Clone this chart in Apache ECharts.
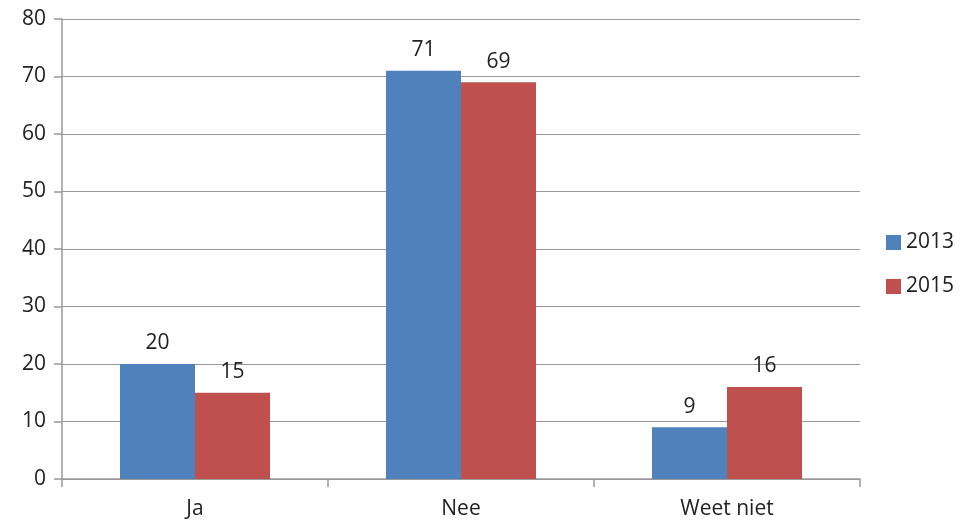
<!DOCTYPE html>
<html>
<head>
    <meta charset="utf-8">
    <title>Ja / Nee</title>
    <script src="https://cdn.jsdelivr.net/npm/echarts@6/dist/echarts.min.js"></script>
    <style>
        html, body { height: 100%; margin: 0; padding: 0; background: #fff; }
    </style>
</head>
<body>
<div id="chart-box" style="width:964px; height:521px;"></div>
<script type="text/javascript">
    const categories = ["Ja", "Nee", "Weet niet"];
    const values2013 = [20, 71, 9];
    const values2015 = [15, 69, 16];

    const font = "'Open Sans', 'DejaVu Sans', sans-serif";
    const chart = echarts.init(document.getElementById("chart-box"));

    const labelStyle = { show: true, position: "top", distance: 10, color: "#222", fontSize: 21, fontFamily: font };

    chart.setOption({
        animation: false,
        grid: { left: 62, right: 104, top: 19, bottom: 42 },
        legend: {
            orient: "vertical",
            left: 886, top: 232, padding: 0,
            itemWidth: 15, itemHeight: 15, itemGap: 23,
            icon: "rect",
            textStyle: { fontSize: 21, color: "#222", fontFamily: font },
            data: ["2013", "2015"]
        },
        xAxis: {
            type: "category",
            data: categories,
            axisLine: { lineStyle: { color: "#999", width: 1.5 } },
            axisTick: { show: true, length: 8, alignWithLabel: false, lineStyle: { color: "#999", width: 1.5 } },
            axisLabel: { fontSize: 21, color: "#222", fontFamily: font, margin: 20 }
        },
        yAxis: {
            type: "value",
            min: 0, max: 80, interval: 10,
            axisLine: { show: true, lineStyle: { color: "#999", width: 1.5 } },
            axisTick: { show: true, length: 8, lineStyle: { color: "#999", width: 1.5 } },
            splitLine: { lineStyle: { color: "#999", width: 1.2 } },
            axisLabel: { fontSize: 21, color: "#222", fontFamily: font, margin: 16 }
        },
        series: [
            {
                name: "2013", type: "bar", data: values2013,
                barWidth: 75, barGap: "0%",
                itemStyle: { color: "#4F81BD" },
                label: labelStyle
            },
            {
                name: "2015", type: "bar", data: values2015,
                barWidth: 75,
                itemStyle: { color: "#C0504D" },
                label: labelStyle
            }
        ]
    });
</script>
</body>
</html>
